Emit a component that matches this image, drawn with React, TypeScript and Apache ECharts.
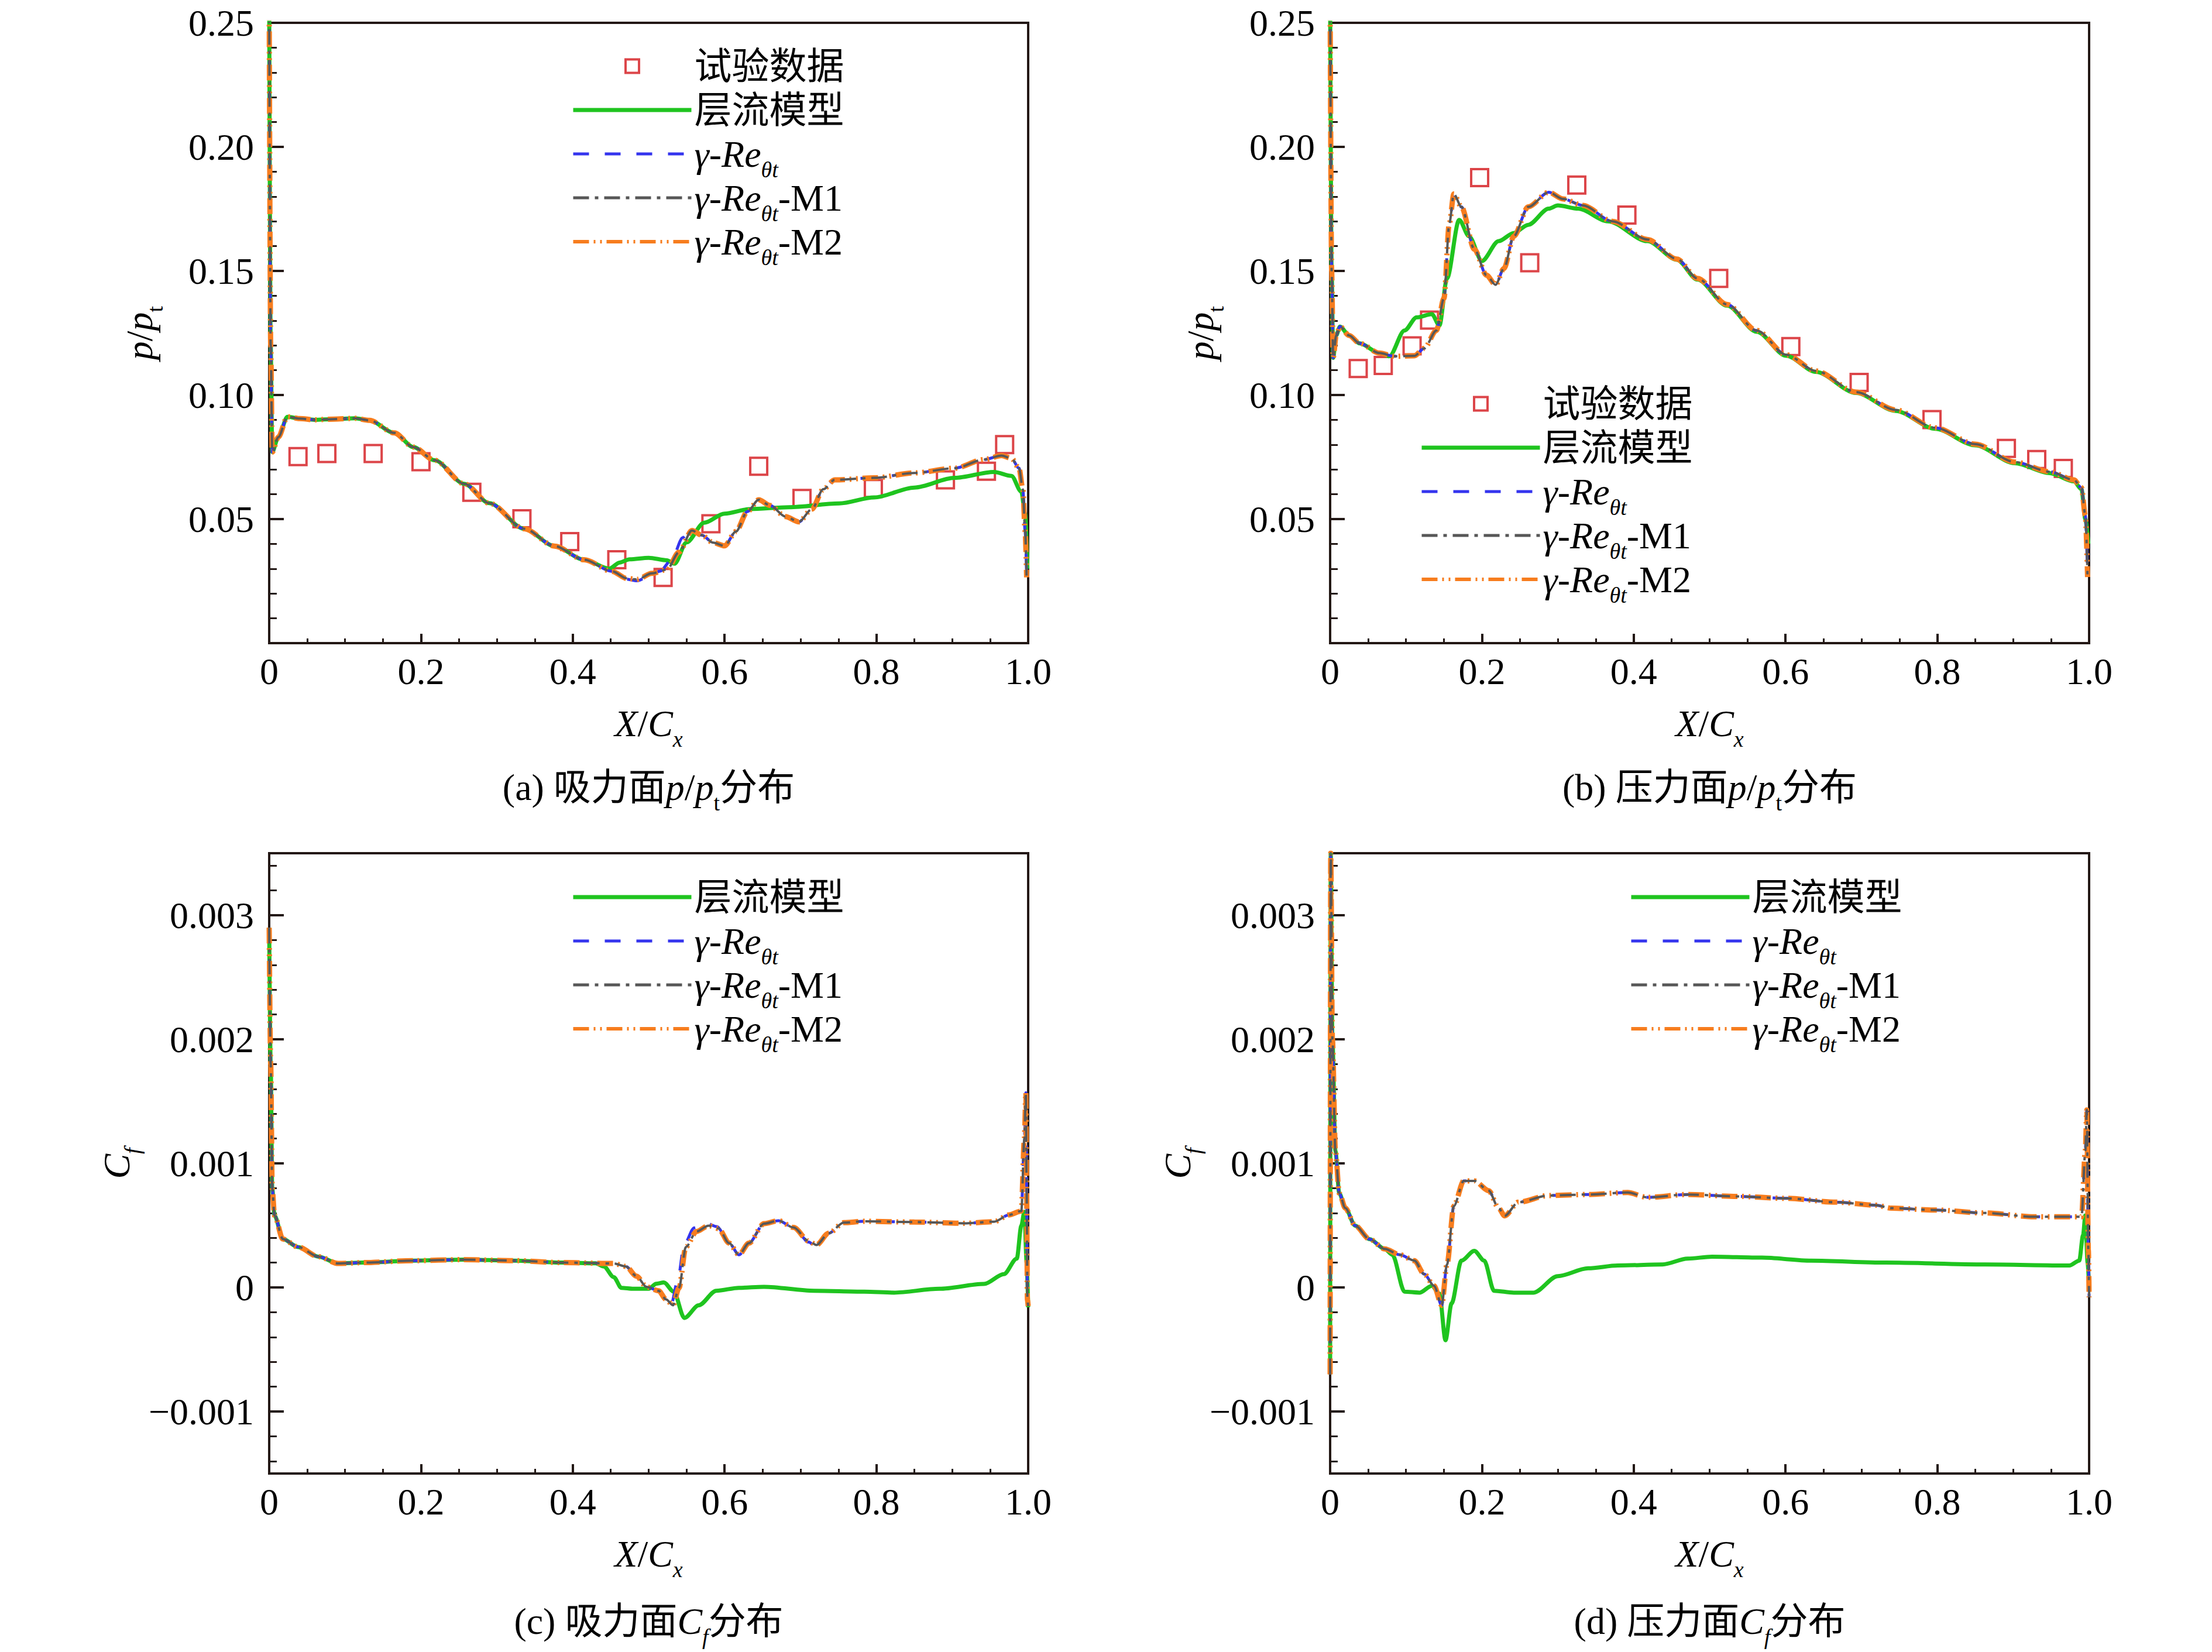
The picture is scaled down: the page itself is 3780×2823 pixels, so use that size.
import React, { useEffect, useRef } from 'react';
import * as echarts from 'echarts';

const FONT = "'Liberation Serif', 'Times New Roman', 'Noto Sans CJK SC', serif";
const AXIS_COLOR = '#231815';

// ---- names ----
const N_EXP = '试验数据';
const N_LAM = '层流模型';
const N_RE = 'γ-Reθt';
const N_M1 = 'γ-Reθt-M1';
const N_M2 = 'γ-Reθt-M2';

// ---- tick labels ----
const X_TICK_INTERVAL = 0.2;
const P_TICK_INTERVAL = 0.05;
const CF_MAJOR_TICKS = [-0.001, 0, 0.001, 0.002, 0.003];
const CF_MINOR_TICKS = [-0.0014, -0.0012, -0.0008, -0.0006, -0.0004, -0.0002, 0.0002, 0.0004, 0.0006, 0.0008,
  0.0012, 0.0014, 0.0016, 0.0018, 0.0022, 0.0024, 0.0026, 0.0028, 0.0032, 0.0034];

// ---- (a) suction surface p/pt ----
const A_EXP = [[0.038, 0.0752], [0.076, 0.0764], [0.137, 0.0764], [0.2, 0.0731], [0.267, 0.0608], [0.333, 0.0501],
  [0.396, 0.0409], [0.458, 0.0336], [0.519, 0.0265], [0.582, 0.0481], [0.645, 0.0713], [0.702, 0.0583],
  [0.796, 0.0623], [0.891, 0.0658], [0.945, 0.0693], [0.969, 0.08]];
const A_LAM = [[0, 0.26], [0.002, 0.12], [0.004, 0.077], [0.012, 0.083], [0.024, 0.0912], [0.04, 0.0905], [0.06, 0.09],
  [0.085, 0.0903], [0.113, 0.0906], [0.132, 0.0898], [0.165, 0.0847], [0.19, 0.079], [0.218, 0.0737], [0.257, 0.0642],
  [0.29, 0.0564], [0.336, 0.0461], [0.376, 0.0391], [0.415, 0.0336], [0.448, 0.03], [0.462, 0.0325], [0.475, 0.0338],
  [0.5, 0.0344], [0.524, 0.0334], [0.534, 0.032], [0.55, 0.0406], [0.573, 0.0485], [0.6, 0.0522], [0.633, 0.054],
  [0.685, 0.0548], [0.751, 0.0563], [0.797, 0.0587], [0.85, 0.0627], [0.903, 0.0666], [0.955, 0.069], [0.978, 0.0674],
  [0.991, 0.061], [0.996, 0.052], [0.999, 0.03]];
const A_RE = [[0, 0.26], [0.002, 0.12], [0.004, 0.077], [0.012, 0.083], [0.024, 0.0912], [0.04, 0.0905], [0.06, 0.09],
  [0.085, 0.0903], [0.113, 0.0906], [0.132, 0.0898], [0.165, 0.0847], [0.19, 0.079], [0.218, 0.0737], [0.257, 0.0642],
  [0.29, 0.0564], [0.336, 0.0461], [0.376, 0.0391], [0.415, 0.0336], [0.452, 0.0289], [0.47, 0.0258], [0.485, 0.0251],
  [0.5, 0.027], [0.515, 0.029], [0.53, 0.0335], [0.545, 0.0425], [0.553, 0.0458], [0.57, 0.0435], [0.585, 0.0405],
  [0.6, 0.0392], [0.615, 0.045], [0.63, 0.053], [0.645, 0.0578], [0.66, 0.0555], [0.68, 0.051], [0.698, 0.0489],
  [0.715, 0.054], [0.73, 0.062], [0.745, 0.0658], [0.797, 0.0666], [0.85, 0.0686], [0.903, 0.0705], [0.942, 0.074],
  [0.965, 0.0756], [0.978, 0.0745], [0.988, 0.0705], [0.993, 0.062], [0.996, 0.045], [0.998, 0.0265]];
const A_M2 = [[0, 0.26], [0.002, 0.12], [0.004, 0.077], [0.012, 0.083], [0.024, 0.0912], [0.04, 0.0905], [0.06, 0.09],
  [0.085, 0.0903], [0.113, 0.0906], [0.132, 0.0898], [0.165, 0.0847], [0.19, 0.079], [0.218, 0.0737], [0.257, 0.0642],
  [0.29, 0.0564], [0.336, 0.0461], [0.376, 0.0391], [0.415, 0.0336], [0.452, 0.0289], [0.471, 0.0261], [0.485, 0.0257],
  [0.504, 0.0281], [0.524, 0.0296], [0.54, 0.0367], [0.557, 0.0454], [0.57, 0.0435], [0.585, 0.0405], [0.6, 0.0392],
  [0.615, 0.045], [0.63, 0.053], [0.645, 0.0578], [0.66, 0.0555], [0.68, 0.051], [0.698, 0.0489], [0.715, 0.054],
  [0.73, 0.062], [0.745, 0.0658], [0.797, 0.0666], [0.85, 0.0686], [0.903, 0.0705], [0.942, 0.074], [0.965, 0.0756],
  [0.978, 0.0745], [0.988, 0.0705], [0.993, 0.062], [0.996, 0.045], [0.998, 0.0265]];

// ---- (b) pressure surface p/pt ----
const B_EXP = [[0.037, 0.1107], [0.07, 0.1119], [0.108, 0.1198], [0.131, 0.1302], [0.197, 0.1876], [0.263, 0.1533],
  [0.325, 0.1846], [0.391, 0.1725], [0.512, 0.147], [0.607, 0.1195], [0.697, 0.1051], [0.793, 0.0901],
  [0.891, 0.0785], [0.931, 0.074], [0.966, 0.0704]];
const B_LAM = [[0, 0.26], [0.002, 0.15], [0.004, 0.115], [0.008, 0.124], [0.013, 0.1276], [0.025, 0.124], [0.039, 0.1208],
  [0.065, 0.1169], [0.078, 0.1156], [0.098, 0.126], [0.114, 0.1313], [0.134, 0.1326], [0.144, 0.128], [0.154, 0.147],
  [0.17, 0.1706], [0.183, 0.164], [0.2, 0.154], [0.222, 0.162], [0.242, 0.1653], [0.261, 0.1686], [0.288, 0.1751],
  [0.3, 0.1764], [0.327, 0.1751], [0.366, 0.17], [0.418, 0.162], [0.457, 0.1545], [0.484, 0.1465], [0.523, 0.136],
  [0.562, 0.1255], [0.601, 0.1158], [0.64, 0.1093], [0.693, 0.1008], [0.745, 0.0936], [0.797, 0.0864], [0.85, 0.0797],
  [0.902, 0.0725], [0.948, 0.0685], [0.98, 0.0652], [0.99, 0.062], [0.995, 0.05], [0.999, 0.04]];
const B_M2 = [[0, 0.26], [0.002, 0.15], [0.004, 0.115], [0.008, 0.124], [0.013, 0.1276], [0.025, 0.124], [0.039, 0.1208],
  [0.065, 0.1169], [0.085, 0.1156], [0.111, 0.1158], [0.124, 0.1188], [0.14, 0.126], [0.15, 0.139], [0.157, 0.169],
  [0.163, 0.181], [0.173, 0.1758], [0.19, 0.1588], [0.206, 0.1483], [0.218, 0.1444], [0.229, 0.151], [0.242, 0.164],
  [0.261, 0.1758], [0.288, 0.1817], [0.307, 0.179], [0.333, 0.1764], [0.372, 0.17], [0.418, 0.1627], [0.457, 0.1548],
  [0.484, 0.147], [0.523, 0.1365], [0.562, 0.126], [0.601, 0.1162], [0.64, 0.1097], [0.693, 0.1012], [0.745, 0.094],
  [0.797, 0.0868], [0.85, 0.0802], [0.902, 0.073], [0.948, 0.0691], [0.98, 0.0658], [0.99, 0.0626], [0.995, 0.0514],
  [0.998, 0.0266]];

// ---- (c) suction surface Cf ----
const C_LAM = [[0, 0.0029], [0.002, 0.0018], [0.004, 0.0008], [0.007, 0.00058], [0.018, 0.00039], [0.038, 0.000326],
  [0.065, 0.000248], [0.091, 0.000193], [0.124, 0.0002], [0.19, 0.000216], [0.256, 0.000224], [0.322, 0.000216],
  [0.388, 0.0002], [0.43, 0.000195], [0.441, 0.000169], [0.454, 0.000083], [0.464, -0.000003], [0.48, -0.000011],
  [0.5, -0.000011], [0.51, 0.00003], [0.52, 0.00004], [0.533, -0.000034], [0.547, -0.000246], [0.566, -0.000144],
  [0.589, -0.000027], [0.619, -0.000003], [0.652, 0.000005], [0.718, -0.000027], [0.784, -0.000034], [0.823, -0.000042],
  [0.883, -0.000011], [0.942, 0.000028], [0.968, 0.000107], [0.985, 0.000232], [0.991, 0.000498], [0.995, 0.00061],
  [0.998, 0.0002], [1, -0.00016]];
const C_RE = [[0, 0.0029], [0.002, 0.0018], [0.004, 0.0008], [0.007, 0.00058], [0.018, 0.00039], [0.038, 0.000326],
  [0.065, 0.000248], [0.091, 0.000193], [0.124, 0.0002], [0.19, 0.000216], [0.256, 0.000224], [0.322, 0.000216],
  [0.388, 0.0002], [0.454, 0.000193], [0.47, 0.000169], [0.484, 0.000091], [0.497, 0.000005], [0.513, -0.000027],
  [0.523, -0.000097], [0.53, -0.00013], [0.538, 0.00005], [0.547, 0.00035], [0.56, 0.00048], [0.575, 0.00052],
  [0.59, 0.00049], [0.606, 0.000357], [0.619, 0.000263], [0.632, 0.000357], [0.652, 0.000514], [0.671, 0.000538],
  [0.691, 0.000483], [0.711, 0.000365], [0.721, 0.00032], [0.737, 0.000436], [0.757, 0.000522], [0.784, 0.000533],
  [0.85, 0.000527], [0.916, 0.000517], [0.955, 0.00053], [0.975, 0.000585], [0.991, 0.000616], [0.995, 0.0012],
  [0.997, 0.00157], [0.998, 0.0008], [0.999, -0.0001], [1, -0.00015]];
const C_M2 = [[0, 0.0029], [0.002, 0.0018], [0.004, 0.0008], [0.007, 0.00058], [0.018, 0.00039], [0.038, 0.000326],
  [0.065, 0.000248], [0.091, 0.000193], [0.124, 0.0002], [0.19, 0.000216], [0.256, 0.000224], [0.322, 0.000216],
  [0.388, 0.0002], [0.454, 0.000193], [0.47, 0.000169], [0.484, 0.000091], [0.497, 0.000005], [0.513, -0.000027],
  [0.523, -0.000097], [0.532, -0.000144], [0.54, -0.000003], [0.549, 0.000326], [0.563, 0.000451], [0.579, 0.000498],
  [0.592, 0.000475], [0.606, 0.000357], [0.619, 0.000263], [0.632, 0.000357], [0.652, 0.000514], [0.671, 0.000538],
  [0.691, 0.000483], [0.711, 0.000373], [0.721, 0.000342], [0.737, 0.000436], [0.757, 0.000522], [0.784, 0.000533],
  [0.85, 0.000527], [0.916, 0.000517], [0.955, 0.00053], [0.975, 0.000585], [0.991, 0.000616], [0.995, 0.0012],
  [0.997, 0.00157], [0.998, 0.0008], [0.999, -0.0001], [1, -0.00015]];

// ---- (d) pressure surface Cf ----
const D_LAM = [[0, -0.0007], [0.0008, 0.0035], [0.003, 0.002], [0.007, 0.0011], [0.012, 0.00076], [0.02, 0.00064],
  [0.033, 0.000498], [0.052, 0.000389], [0.072, 0.00031], [0.082, 0.000263], [0.098, -0.000034], [0.118, -0.000042],
  [0.134, 0.000013], [0.144, -0.00005], [0.152, -0.000426], [0.16, -0.000129], [0.173, 0.000216], [0.19, 0.000295],
  [0.203, 0.000216], [0.216, -0.000027], [0.242, -0.000042], [0.268, -0.000042], [0.3, 0.000091], [0.34, 0.000154],
  [0.379, 0.000177], [0.438, 0.000185], [0.471, 0.000232], [0.503, 0.000248], [0.569, 0.00024], [0.634, 0.000216],
  [0.732, 0.0002], [0.863, 0.000185], [0.974, 0.000177], [0.987, 0.000216], [0.992, 0.00042], [0.995, 0.00058],
  [0.998, 0.0002], [1, 0]];
const D_M2 = [[0, -0.0007], [0.0008, 0.0035], [0.003, 0.002], [0.007, 0.0011], [0.012, 0.00076], [0.02, 0.00064],
  [0.033, 0.000498], [0.052, 0.000389], [0.072, 0.00031], [0.092, 0.000263], [0.111, 0.000216], [0.124, 0.000107],
  [0.137, 0.000013], [0.147, -0.000144], [0.154, 0.000185], [0.163, 0.000655], [0.176, 0.000859], [0.19, 0.000859],
  [0.209, 0.00078], [0.222, 0.000639], [0.23, 0.000577], [0.248, 0.000687], [0.288, 0.000741], [0.34, 0.000749],
  [0.392, 0.000765], [0.418, 0.000726], [0.471, 0.000749], [0.536, 0.000734], [0.601, 0.000718], [0.667, 0.000687],
  [0.719, 0.000663], [0.739, 0.000639], [0.797, 0.000624], [0.863, 0.0006], [0.928, 0.000569], [0.99, 0.000569],
  [0.995, 0.0011], [0.997, 0.00143], [0.999, 0.0003], [1, -0.00008]];

const LH = 92;
const RICH: any = {
  i: { fontFamily: FONT, fontStyle: 'italic', fontSize: 64, lineHeight: LH, color: '#000' },
  s: { fontFamily: FONT, fontStyle: 'italic', fontSize: 38, lineHeight: LH, verticalAlign: 'bottom', color: '#000' },
  u: { fontFamily: FONT, fontSize: 38, lineHeight: LH, verticalAlign: 'bottom', color: '#000' },
};

const LEGEND_LABELS: Record<string, string> = {
  [N_EXP]: N_EXP,
  [N_LAM]: N_LAM,
  [N_RE]: '{i|γ}-{i|Re}{s|θt}',
  [N_M1]: '{i|γ}-{i|Re}{s|θt}-M1',
  [N_M2]: '{i|γ}-{i|Re}{s|θt}-M2',
};

const STYLE: Record<string, any> = {
  [N_LAM]: { color: '#1fc41f', width: 7, type: 'solid' },
  [N_RE]: { color: '#3434ee', width: 5, type: [27, 27] },
  [N_M1]: { color: '#575757', width: 4, type: [27, 10, 6, 10] },
  [N_M2]: { color: '#f77d1e', width: 9, type: [27, 8, 3, 8, 3, 8] },
};
const LEGEND_LINE_WIDTH: Record<string, number> = { [N_LAM]: 7, [N_RE]: 5, [N_M1]: 5, [N_M2]: 6 };
// legend icon for the test data: a 23px square centred in the 202x23 icon box
const EXP_LEGEND_ICON = 'path://M0,0M202,23M89.5,0L112.5,0L112.5,23L89.5,23Z';

const textBase = { fontFamily: FONT, fontSize: 64, lineHeight: LH, color: '#000', rich: RICH };

function buildOption() {
  const W = 1297;
  const gridLefts = [460, 2273, 460, 2273];
  const gridTops = [39, 39, 1458, 1458];
  const grids = gridLefts.map((l, k) => ({
    left: l, top: gridTops[k], width: W, height: 1060,
    show: true, borderColor: AXIS_COLOR, borderWidth: 4, backgroundColor: 'transparent',
  }));

  const xAxes = [0, 1, 2, 3].map((g) => ({
    type: 'value', gridIndex: g, min: 0, max: 1, interval: X_TICK_INTERVAL, position: 'bottom',
    axisLine: { show: true, onZero: false, lineStyle: { color: AXIS_COLOR, width: 4 } },
    axisTick: { show: true, inside: true, length: 16, lineStyle: { color: AXIS_COLOR, width: 4 } },
    minorTick: { show: true, splitNumber: 4, length: 8, lineStyle: { color: AXIS_COLOR, width: 3 } },
    splitLine: { show: false }, minorSplitLine: { show: false },
    axisLabel: { fontFamily: FONT, fontSize: 64, color: '#000', margin: 16,
      formatter: (v: number) => (v === 0 ? '0' : v.toFixed(1)) },
    name: '{i|X}/{i|C}{s|x}', nameLocation: 'middle', nameGap: 91, nameTextStyle: textBase,
  }));

  const pAxis = (g: number) => ({
    type: 'value', gridIndex: g, min: 0, max: 0.25, interval: P_TICK_INTERVAL, position: 'left',
    axisLine: { show: true, onZero: false, lineStyle: { color: AXIS_COLOR, width: 4 } },
    axisTick: { show: true, inside: true, length: 25, lineStyle: { color: AXIS_COLOR, width: 4 } },
    minorTick: { show: true, splitNumber: 5, length: 13, lineStyle: { color: AXIS_COLOR, width: 3 } },
    splitLine: { show: false }, minorSplitLine: { show: false },
    axisLabel: { fontFamily: FONT, fontSize: 64, color: '#000', margin: 26,
      formatter: (v: number) => (v === 0 ? '' : v.toFixed(2)) },
    name: '{i|p}/{i|p}{u|t}', nameLocation: 'middle', nameRotate: 90, nameGap: 176, nameTextStyle: textBase,
  });
  const fmtCf = (v: number) => {
    if (Math.abs(v) < 1e-9) return '0';
    return v < 0 ? '\u2212' + Math.abs(v).toFixed(3) : v.toFixed(3);
  };
  const cfAxis = (g: number) => ({
    type: 'value', gridIndex: g, min: -0.0015, max: 0.0035, position: 'left',
    axisLine: { show: true, onZero: false, lineStyle: { color: AXIS_COLOR, width: 4 } },
    axisTick: { show: true, inside: true, length: 25, customValues: CF_MAJOR_TICKS, lineStyle: { color: AXIS_COLOR, width: 4 } },
    splitLine: { show: false },
    axisLabel: { fontFamily: FONT, fontSize: 64, color: '#000', margin: 26, customValues: CF_MAJOR_TICKS, formatter: fmtCf },
    name: '{i|C}{s|f}', nameLocation: 'middle', nameRotate: 90, nameGap: 215, nameTextStyle: textBase,
  });
  const cfMinorAxis = (g: number) => ({
    type: 'value', gridIndex: g, min: -0.0015, max: 0.0035, position: 'left', offset: 0,
    axisLine: { show: false, onZero: false },
    axisTick: { show: true, inside: true, length: 13, customValues: CF_MINOR_TICKS, lineStyle: { color: AXIS_COLOR, width: 3 } },
    axisLabel: { show: false }, splitLine: { show: false },
  });
  const yAxes = [pAxis(0), pAxis(1), cfAxis(2), cfAxis(3), cfMinorAxis(2), cfMinorAxis(3)];

  const line = (name: string, data: number[][], g: number, y: number) => ({
    name, type: 'line', xAxisIndex: g, yAxisIndex: y, data, symbol: 'none', showSymbol: false,
    smooth: 0.3, smoothMonotone: 'x', clip: true,
    lineStyle: STYLE[name], itemStyle: { color: STYLE[name].color }, emphasis: { disabled: true }, silent: true,
  });
  const scatter = (data: number[][], g: number, y: number) => ({
    name: N_EXP, type: 'scatter', xAxisIndex: g, yAxisIndex: y, data, symbol: 'rect', symbolSize: 29,
    itemStyle: { color: 'rgba(255,255,255,0)', borderColor: '#d3161c', borderWidth: 4 }, silent: true,
    emphasis: { disabled: true },
  });

  const series = [
    line(N_LAM, A_LAM, 0, 0), line(N_RE, A_RE, 0, 0), line(N_M2, A_M2, 0, 0), line(N_M1, A_M2, 0, 0), scatter(A_EXP, 0, 0),
    line(N_LAM, B_LAM, 1, 1), line(N_RE, B_M2, 1, 1), line(N_M2, B_M2, 1, 1), line(N_M1, B_M2, 1, 1), scatter(B_EXP, 1, 1),
    line(N_LAM, C_LAM, 2, 2), line(N_RE, C_RE, 2, 2), line(N_M2, C_M2, 2, 2), line(N_M1, C_M2, 2, 2),
    line(N_LAM, D_LAM, 3, 3), line(N_RE, D_M2, 3, 3), line(N_M2, D_M2, 3, 3), line(N_M1, D_M2, 3, 3),
  ];

  const lineItem = (name: string) => ({
    name, itemStyle: { opacity: 0, borderWidth: 0 },
    lineStyle: { width: LEGEND_LINE_WIDTH[name], color: STYLE[name].color, type: STYLE[name].type },
  });
  const legendData = (withExp: boolean) => {
    const items: any[] = [];
    if (withExp) {
      items.push({ name: N_EXP, icon: EXP_LEGEND_ICON,
        itemStyle: { color: 'rgba(255,255,255,0)', borderColor: '#d3161c', borderWidth: 4 } });
    }
    items.push(lineItem(N_LAM), lineItem(N_RE), lineItem(N_M1), lineItem(N_M2));
    return items;
  };
  const legend = (left: number, top: number, withExp: boolean) => ({
    show: true, orient: 'vertical', left, top, padding: 0, itemGap: 75 - LH, itemWidth: 202, itemHeight: 23,
    symbolKeepAspect: true, selectedMode: false, data: legendData(withExp),
    formatter: (name: string) => LEGEND_LABELS[name] || name,
    textStyle: { ...textBase },
  });

  const caption = (x: number, y: number, text: string) => ({
    type: 'text', x, y, silent: true,
    style: { text, rich: RICH, fontFamily: FONT, fontSize: 64, lineHeight: LH, fill: '#000',
      align: 'center', verticalAlign: 'middle', textAlign: 'center', textVerticalAlign: 'middle' },
  });

  const ca = 460 + W / 2;
  const cb = 2273 + W / 2;
  return {
    animation: false,
    backgroundColor: '#ffffff',
    grid: grids,
    xAxis: xAxes,
    yAxis: yAxes,
    legend: [legend(976, 113 - LH / 2, true), legend(2426, 690 - LH / 2, true),
      legend(976, 1533 - LH / 2, false), legend(2784, 1533 - LH / 2, false)],
    series,
    graphic: [
      caption(ca, 1345, '(a) 吸力面{i|p}/{i|p}{u|t}分布'),
      caption(cb, 1345, '(b) 压力面{i|p}/{i|p}{u|t}分布'),
      caption(ca, 2770, '(c) 吸力面{i|C}{s|f}分布'),
      caption(cb, 2770, '(d) 压力面{i|C}{s|f}分布'),
    ],
  };
}

export default function App() {
  const ref = useRef<HTMLDivElement>(null);
  useEffect(() => {
    if (!ref.current) return;
    const chart = echarts.init(ref.current, null, { renderer: 'svg' });
    chart.setOption(buildOption() as any);
    return () => chart.dispose();
  }, []);
  return <div ref={ref} style={{ position: 'absolute', left: 0, top: 0, width: 3780, height: 2823, background: '#fff' }} />;
}
